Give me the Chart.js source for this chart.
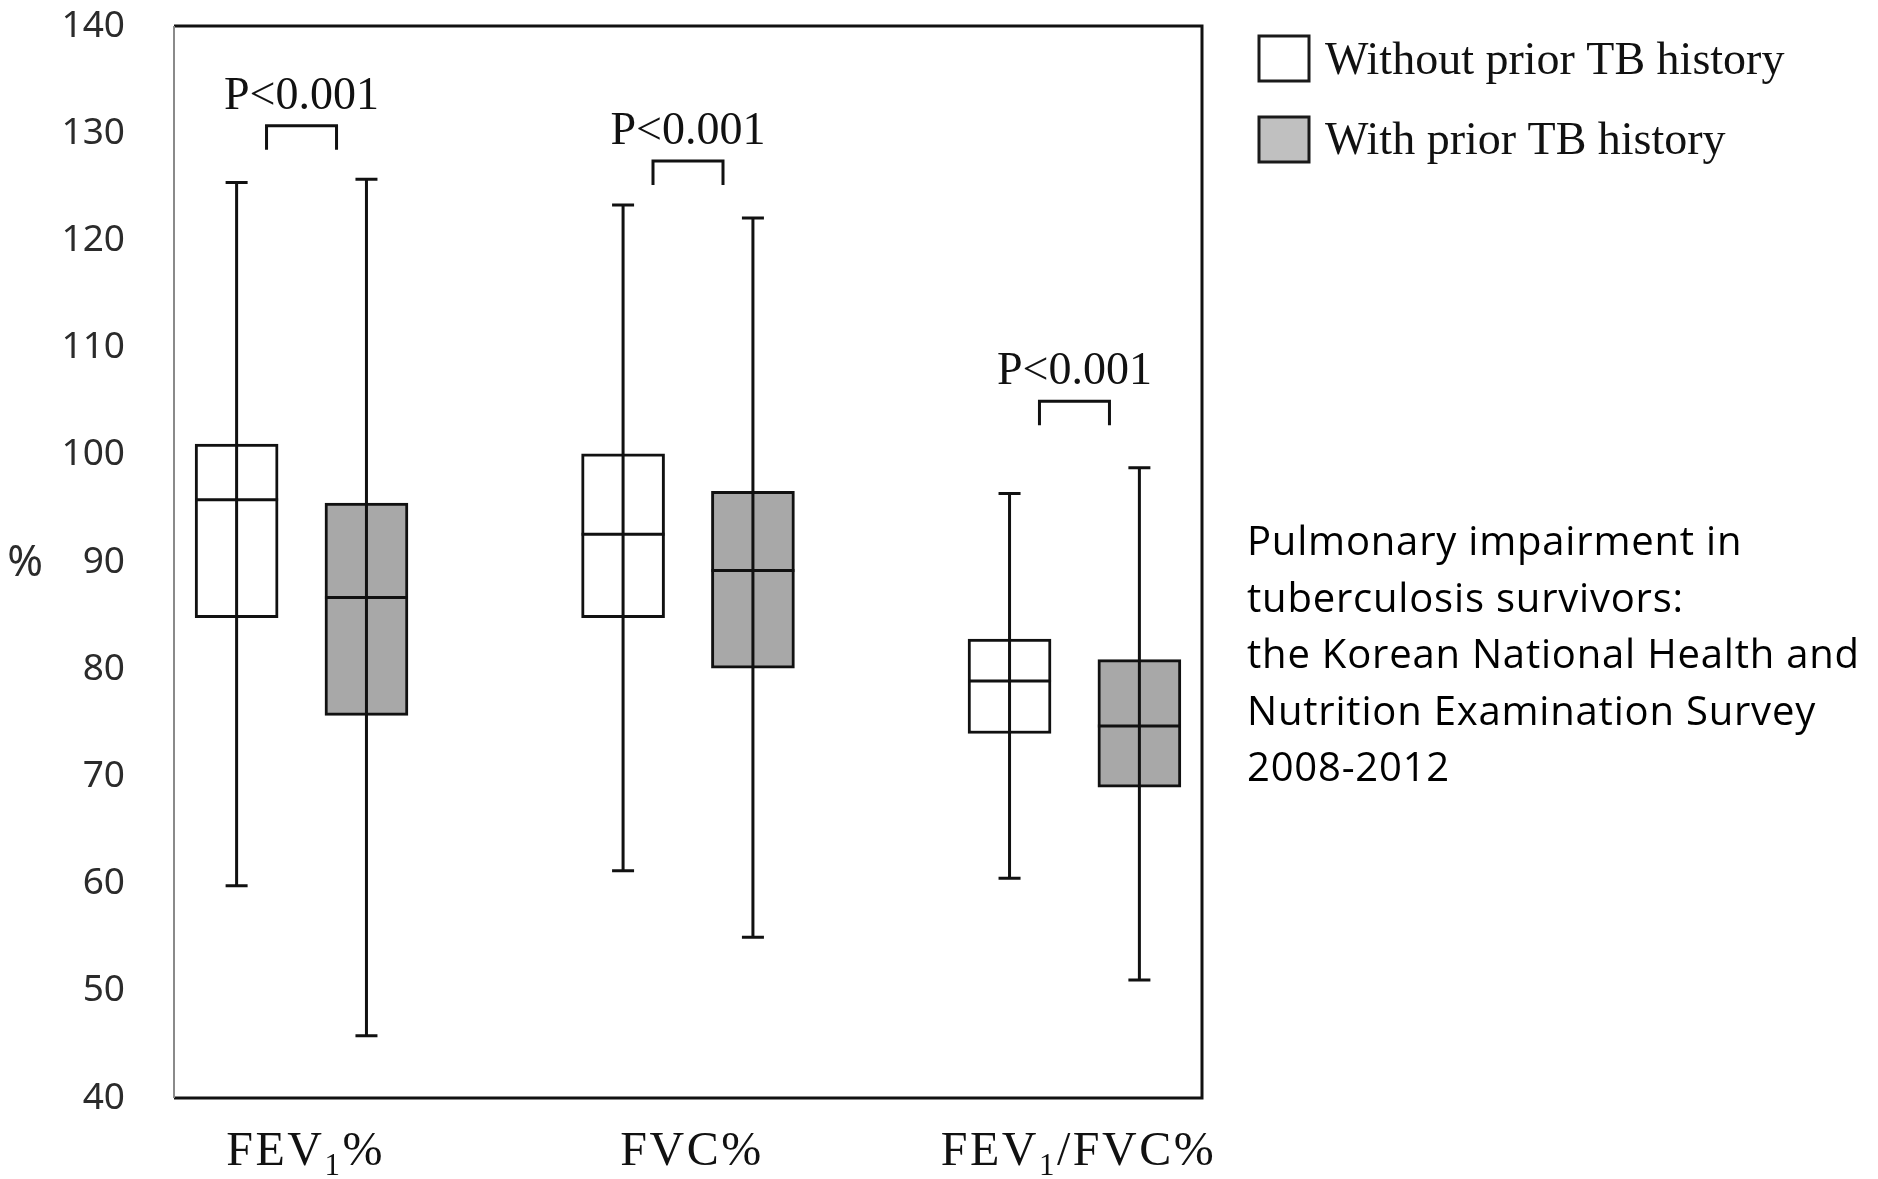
<!DOCTYPE html>
<html lang="en">
<head>
<meta charset="utf-8">
<title>Pulmonary impairment in tuberculosis survivors</title>
<script src="https://cdn.jsdelivr.net/npm/chart.js@4/dist/chart.umd.min.js"></script>
<style>
  html, body { margin: 0; background: #fff; }
  .page { position: relative; width: 1878px; height: 1179px; overflow: hidden; }
  #chart { position: absolute; left: 0; top: 0; }
  .caption {
    position: absolute; left: 1247px; top: 512px;
    font-family: 'Open Sans', sans-serif; font-size: 40px; line-height: 56.6px;
    letter-spacing: 0.8px; color: #000; white-space: nowrap;
  }
</style>
</head>
<body>
<div class="page">
  <canvas id="chart" width="1878" height="1179"></canvas>
  <div class="caption">Pulmonary impairment in<br>tuberculosis survivors:<br>the Korean National Health and<br>Nutrition Examination Survey<br>2008-2012</div>
</div>
<script>
// spirometry measures (a "1" right after FEV is set as a subscript)
const categories = ['FEV1%', 'FVC%', 'FEV1/FVC%'];
const seriesLabels = ['Without prior TB history', 'With prior TB history'];

// box plot summaries, one value per measure
const withoutMin    = [59.8, 61.2, 60.5];
const withoutQ1     = [84.8, 84.8, 74.0];
const withoutMedian = [95.8, 92.6, 78.9];
const withoutQ3     = [101.0, 100.1, 82.8];
const withoutMax    = [125.4, 123.3, 96.4];

const withMin    = [45.8, 55.0, 51.0];
const withQ1     = [75.7, 80.1, 69.0];
const withMedian = [86.7, 89.2, 74.7];
const withQ3     = [95.5, 96.6, 80.9];
const withMax    = [125.7, 122.1, 98.8];

// significance brackets over each pair
const pLabels = ['P<0.001', 'P<0.001', 'P<0.001'];
const bracketTop = [130.7, 127.4, 105.0];

const yTicks = [40, 50, 60, 70, 80, 90, 100, 110, 120, 130, 140];

const PAIR_OFFSET = 0.168;   // distance of each box from the measure centre (x units)
const INK = '#111';
const SERIF = '"Liberation Serif", "Times New Roman", serif';
const SANS = '"Noto Sans", sans-serif';

function boxes(q1, q3, shift) {
  return categories.map((c, i) => ({ x: i + 1 + shift, y: [q1[i], q3[i]] }));
}

// draws "FEV1%" style labels with the 1 dropped as a subscript
function drawSubscripted(ctx, text, cx, baseline) {
  const parts = text.split(/(?<=FEV)(1)/);
  const big = '48px ' + SERIF;
  const small = '31px ' + SERIF;
  ctx.letterSpacing = '2.5px';
  let total = 0;
  parts.forEach((p, i) => {
    ctx.font = i % 2 ? small : big;
    total += ctx.measureText(p).width;
  });
  let x = cx - total / 2;
  ctx.textAlign = 'left';
  ctx.textBaseline = 'alphabetic';
  parts.forEach((p, i) => {
    ctx.font = i % 2 ? small : big;
    ctx.fillText(p, x, i % 2 ? baseline + 10 : baseline);
    x += ctx.measureText(p).width;
  });
  ctx.letterSpacing = '0px';
}

const boxExtras = {
  id: 'boxExtras',
  afterDatasetsDraw(chart) {
    const { ctx, chartArea: area, scales: { x, y } } = chart;
    ctx.save();
    ctx.strokeStyle = INK;
    ctx.fillStyle = INK;
    ctx.lineWidth = 3;

    // whiskers, caps and medians
    chart.data.datasets.forEach((ds, di) => {
      chart.getDatasetMeta(di).data.forEach((bar, i) => {
        const cx = bar.x;
        const half = bar.width / 2;
        const lo = y.getPixelForValue(ds.lows[i]);
        const hi = y.getPixelForValue(ds.highs[i]);
        const med = y.getPixelForValue(ds.medians[i]);
        ctx.beginPath();
        ctx.moveTo(cx, lo); ctx.lineTo(cx, hi);
        ctx.moveTo(cx - 11, lo); ctx.lineTo(cx + 11, lo);
        ctx.moveTo(cx - 11, hi); ctx.lineTo(cx + 11, hi);
        ctx.moveTo(cx - half, med); ctx.lineTo(cx + half, med);
        ctx.stroke();
      });
    });

    // plot frame: grey on the left, dark on the other sides
    ctx.beginPath();
    ctx.moveTo(area.left, area.top); ctx.lineTo(area.right, area.top);
    ctx.lineTo(area.right, area.bottom); ctx.lineTo(area.left, area.bottom);
    ctx.stroke();
    ctx.strokeStyle = '#8a8a8a';
    ctx.lineWidth = 2;
    ctx.beginPath();
    ctx.moveTo(area.left, area.top); ctx.lineTo(area.left, area.bottom);
    ctx.stroke();

    // p-value brackets
    ctx.strokeStyle = INK;
    ctx.lineWidth = 3;
    ctx.font = '46px ' + SERIF;
    ctx.textAlign = 'center';
    ctx.textBaseline = 'alphabetic';
    pLabels.forEach((label, i) => {
      const cx = x.getPixelForValue(i + 1);
      const top = y.getPixelForValue(bracketTop[i]);
      ctx.beginPath();
      ctx.moveTo(cx - 35, top + 24); ctx.lineTo(cx - 35, top);
      ctx.lineTo(cx + 35, top); ctx.lineTo(cx + 35, top + 24);
      ctx.stroke();
      ctx.fillText(label, cx, top - 17);
    });

    // measure names under the frame
    categories.forEach((label, i) => {
      drawSubscripted(ctx, label, x.getPixelForValue(i + 1) + 4, area.bottom + 67);
    });

    // unit label beside the value axis
    ctx.font = '43px ' + SANS;
    ctx.fillStyle = '#2b2b2b';
    ctx.textAlign = 'center';
    ctx.textBaseline = 'middle';
    ctx.fillText('%', 25, (area.top + area.bottom) / 2 + 2);

    // legend at the upper right
    ctx.textAlign = 'left';
    ctx.textBaseline = 'alphabetic';
    ctx.font = '46px ' + SERIF;
    chart.data.datasets.forEach((ds, di) => {
      const bx = 1259, by = 36 + di * 81;
      ctx.fillStyle = ds.legendFill;
      ctx.fillRect(bx, by, 50, 45);
      ctx.strokeStyle = '#1a1a1a';
      ctx.lineWidth = 3;
      ctx.strokeRect(bx, by, 50, 45);
      ctx.fillStyle = INK;
      ctx.fillText(ds.label, 1325, 74 + di * 80);
    });
    ctx.restore();
  }
};

new Chart(document.getElementById('chart'), {
  type: 'bar',
  data: {
    datasets: [
      {
        label: seriesLabels[0],
        data: boxes(withoutQ1, withoutQ3, -PAIR_OFFSET),
        backgroundColor: '#ffffff',
        legendFill: '#ffffff',
        lows: withoutMin, medians: withoutMedian, highs: withoutMax
      },
      {
        label: seriesLabels[1],
        data: boxes(withQ1, withQ3, PAIR_OFFSET),
        backgroundColor: '#a8a8a8',
        legendFill: '#c0c0c0',
        lows: withMin, medians: withMedian, highs: withMax
      }
    ]
  },
  options: {
    responsive: false,
    animation: false,
    grouped: false,
    categoryPercentage: 1,
    barPercentage: 1,
    maxBarThickness: 83,
    borderColor: INK,
    borderWidth: 3,
    borderSkipped: false,
    layout: { padding: { left: 0, top: 26, right: 676, bottom: 81 } },
    plugins: {
      legend: { display: false },
      tooltip: { enabled: false }
    },
    scales: {
      x: {
        type: 'linear',
        display: false,
        offset: false,
        min: 0.67,
        max: 3.33,
        afterBuildTicks: (axis) => { axis.ticks = categories.map((c, i) => ({ value: i + 1 })); }
      },
      y: {
        min: yTicks[0],
        max: yTicks[yTicks.length - 1],
        afterBuildTicks: (axis) => { axis.ticks = yTicks.map(v => ({ value: v })); },
        afterFit: (axis) => {
          axis.width = 174;
          axis.paddingTop = 0;
          axis.paddingBottom = 0;
        },
        grid: { display: false, drawTicks: false },
        border: { display: false },
        ticks: {
          color: '#2b2b2b',
          padding: 49,
          font: { family: SANS, size: 37 }
        }
      }
    }
  },
  plugins: [boxExtras]
});
</script>
</body>
</html>
